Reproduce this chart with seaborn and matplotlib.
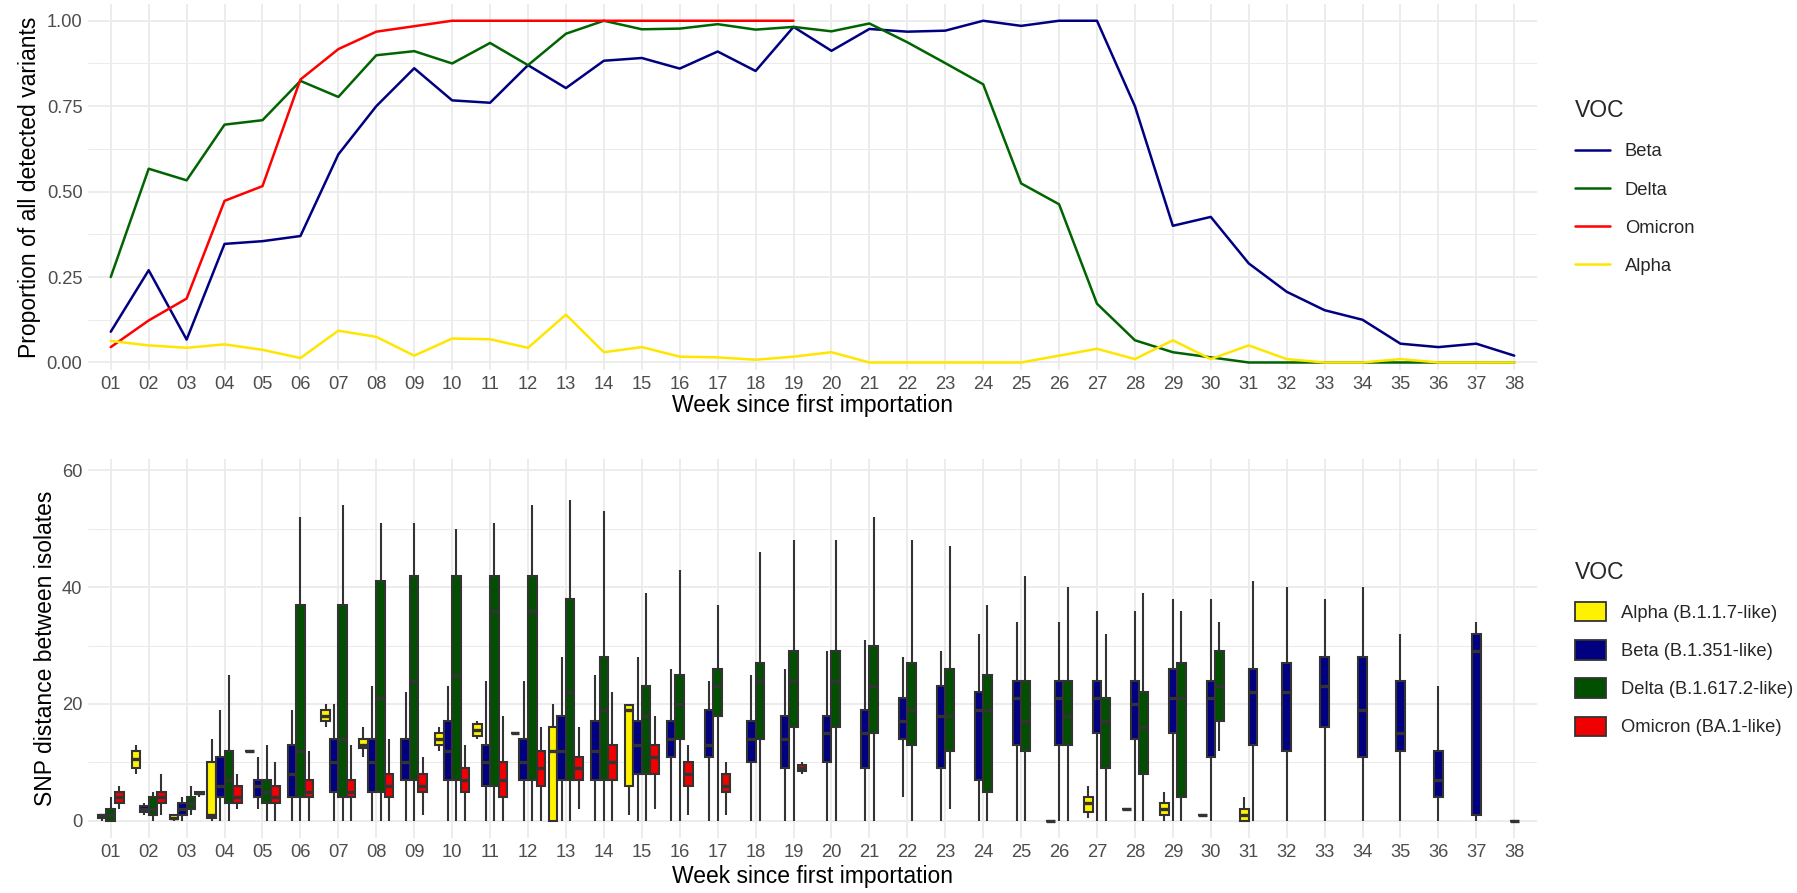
import numpy as np
import pandas as pd
import matplotlib
matplotlib.use("Agg")
import matplotlib.pyplot as plt
from matplotlib.patches import Patch
from matplotlib.ticker import MultipleLocator
import seaborn as sns

# ---------------- data ----------------
weeks = list(range(1, 39))
week_labels = [f"{w:02d}" for w in weeks]

beta_prop = [0.09, 0.27, 0.067, 0.347, 0.355, 0.37, 0.609, 0.75, 0.861, 0.767,
             0.76, 0.87, 0.803, 0.883, 0.891, 0.86, 0.91, 0.853, 0.982, 0.912,
             0.976, 0.968, 0.971, 1.0, 0.985, 1.0, 1.0, 0.75, 0.40, 0.426,
             0.29, 0.207, 0.153, 0.125, 0.055, 0.045, 0.055, 0.02]
delta_prop = [0.25, 0.567, 0.533, 0.696, 0.709, 0.824, 0.777, 0.899, 0.911, 0.875,
              0.935, 0.87, 0.962, 1.0, 0.975, 0.977, 0.99, 0.974, 0.982, 0.969,
              0.992, 0.937, 0.876, 0.814, 0.524, 0.463, 0.172, 0.065, 0.03, 0.015,
              0.0, 0.0, 0.0, 0.0, 0.0, 0.0, 0.0, 0.0]
omicron_prop = [0.045, 0.123, 0.187, 0.473, 0.516, 0.828, 0.917, 0.968, 0.984, 1.0,
                1.0, 1.0, 1.0, 1.0, 1.0, 1.0, 1.0, 1.0, 1.0]
alpha_prop = [0.063, 0.05, 0.043, 0.053, 0.037, 0.013, 0.093, 0.075, 0.02, 0.07,
              0.068, 0.043, 0.14, 0.03, 0.045, 0.017, 0.015, 0.008, 0.017, 0.03,
              0.0, 0.0, 0.0, 0.0, 0.0, 0.02, 0.04, 0.01, 0.065, 0.01,
              0.05, 0.01, 0.0, 0.0, 0.01, 0.0, 0.0, 0.0]

line_order = ["Beta", "Delta", "Omicron", "Alpha"]
line_colors = {"Beta": "#000080", "Delta": "#006400", "Omicron": "#FF0000", "Alpha": "#FFE600"}

# box data: [min, q1, median, q3, max] per week
alpha_weeks = [1, 2, 3, 4, 5, 7, 8, 10, 11, 12, 13, 15, 26, 27, 28, 29, 30, 31]
alpha_box = [[0, 0.5, 1, 1, 1], [8, 9, 10.5, 12, 13], [0, 0.3, 0.5, 1, 1],
             [0, 0.5, 1, 10, 14], [12, 12, 12, 12, 12], [16, 17, 18, 19, 20],
             [11, 12.5, 13, 14, 16], [12, 13, 14, 15, 16], [14, 14.5, 15.5, 16.5, 17],
             [15, 15, 15, 15, 15], [0, 0, 12, 16, 20], [1, 6, 19, 19.8, 19.8],
             [0, 0, 0, 0, 0], [0.5, 1.5, 3, 4, 6], [2, 2, 2, 2, 2],
             [0, 1, 2, 3, 5], [1, 1, 1, 1, 1], [0, 0, 1, 2, 4]]

beta_weeks = list(range(2, 39))
beta_box = [[1, 1.5, 2, 2.5, 3], [0, 1, 2, 3, 4], [0, 4, 6, 11, 19], [2, 4, 6, 7, 11],
            [0, 4, 8, 13, 19], [0, 5, 10, 14, 20], [0, 5, 10, 14, 23], [0, 7, 10, 14, 22],
            [0, 7, 12, 17, 23], [0, 6, 10, 13, 24], [0, 7, 10, 14, 24], [0, 7, 12, 18, 28],
            [0, 7, 12, 17, 25], [0, 8, 13, 17, 28], [0, 11, 14, 17, 26], [0, 11, 13, 19, 24],
            [0, 10, 14, 17, 25], [0, 9, 14, 18, 26], [0, 10, 15, 18, 29], [0, 9, 15, 19, 31],
            [4, 14, 17, 21, 28], [0, 9, 18, 23, 29], [0, 7, 19, 22, 32], [0, 13, 21, 24, 34],
            [0, 13, 21, 24, 34], [0, 15, 21, 24, 36], [0, 14, 20, 24, 36], [0, 15, 21, 26, 38],
            [0, 11, 21, 24, 38], [0, 13, 22, 26, 41], [0, 12, 22, 27, 40], [0, 16, 23, 28, 38],
            [0, 11, 19, 28, 40], [0, 12, 15, 24, 32], [0, 4, 7, 12, 23], [0, 1, 29, 32, 34],
            [0, 0, 0, 0, 0]]

delta_weeks = list(range(1, 31))
delta_box = [[0, 0, 1, 2, 4], [0, 1, 2, 4, 5], [1, 2, 3, 4, 6], [0, 3, 7, 12, 25],
             [0, 3, 5, 7, 13], [0, 4, 12, 37, 52], [0, 4, 14, 37, 54], [0, 5, 21, 41, 51],
             [0, 7, 24, 42, 51], [0, 7, 25, 42, 50], [0, 6, 36, 42, 51], [0, 7, 36, 42, 54],
             [0, 7, 22, 38, 55], [0, 7, 19, 28, 53], [0, 8, 18, 23, 39], [0, 14, 20, 25, 43],
             [0, 18, 23, 26, 37], [0, 14, 24, 27, 46], [0, 16, 24, 29, 48], [0, 16, 24, 29, 48],
             [0, 15, 23, 30, 52], [0, 13, 19, 27, 48], [2, 12, 18, 26, 47], [0, 5, 19, 25, 37],
             [0, 12, 17, 24, 42], [0, 13, 18, 24, 40], [0, 9, 17, 21, 32], [0, 8, 16, 22, 39],
             [0, 4, 21, 27, 36], [12, 17, 23, 29, 34]]

omicron_weeks = [1, 2, 3, 4, 5, 6, 7, 8, 9, 10, 11, 12, 13, 14, 15, 16, 17, 19]
omicron_box = [[2, 3, 4, 5, 6], [1, 3, 4, 5, 8], [4, 4.5, 4.8, 5, 5], [2, 3, 4, 6, 8],
               [0, 3, 4, 6, 10], [0, 4, 5, 7, 12], [0, 4, 5, 7, 13], [0, 4, 6, 8, 14],
               [1, 5, 6, 8, 11], [0, 5, 7, 9, 13], [0, 4, 7, 10, 18], [0, 6, 9, 12, 16],
               [2, 7, 9, 11, 16], [0, 7, 10, 13, 22], [2, 8, 11, 13, 18], [1, 6, 8, 10, 13],
               [1, 5, 6, 8, 10], [8, 8.5, 9, 9.5, 10]]

voc_order = ["Alpha", "Beta", "Delta", "Omicron"]
voc_labels = ["Alpha (B.1.1.7-like)", "Beta (B.1.351-like)",
              "Delta (B.1.617.2-like)", "Omicron (BA.1-like)"]
box_colors = {"Alpha": "#FFF200", "Beta": "#000080", "Delta": "#005000", "Omicron": "#F00000"}

# ---------------- frames ----------------
prop_df = pd.concat([
    pd.DataFrame({"week": weeks[:len(v)], "prop": v, "VOC": n})
    for n, v in [("Beta", beta_prop), ("Delta", delta_prop),
                 ("Omicron", omicron_prop), ("Alpha", alpha_prop)]
], ignore_index=True)

rows = []
for n, wks, st in [("Alpha", alpha_weeks, alpha_box), ("Beta", beta_weeks, beta_box),
                   ("Delta", delta_weeks, delta_box), ("Omicron", omicron_weeks, omicron_box)]:
    for w, s in zip(wks, st):
        for v in s:
            rows.append({"week": w, "snp": v, "VOC": n})
snp_df = pd.DataFrame(rows)

# ---------------- style ----------------
sns.set_style("whitegrid", {"grid.color": "#EBEBEB", "axes.edgecolor": "white"})
plt.rcParams["font.family"] = ["Liberation Sans", "DejaVu Sans"]

W, H = 1797, 893
fig = plt.figure(figsize=(W / 100, H / 100), dpi=100)
L, R = 88, 1537
ax1 = fig.add_axes([L / W, 1 - 370 / H, (R - L) / W, 366 / H])
ax2 = fig.add_axes([L / W, 1 - 838 / H, (R - L) / W, 379 / H])

tick_color = "#4D4D4D"
tick_fs = 13.2
title_fs = 16.5

# ---- top panel ----
sns.lineplot(data=prop_df, x="week", y="prop", hue="VOC", hue_order=line_order,
             palette=line_colors, linewidth=1.8, errorbar=None, ax=ax1)
ax1.set_xlim(0.4, 38.6)
ax1.set_ylim(-0.022, 1.049)
ax1.set_yticks([0, 0.25, 0.5, 0.75, 1.0])
ax1.set_yticklabels(["0.00", "0.25", "0.50", "0.75", "1.00"])
ax1.yaxis.set_minor_locator(MultipleLocator(0.125))
h, l = ax1.get_legend_handles_labels()
ax1.legend(h, l, title="VOC", loc="center left", bbox_to_anchor=(1.015, 0.5),
           frameon=False, fontsize=tick_fs, title_fontsize=title_fs,
           alignment="left", handlelength=1.9, labelspacing=1.15)
ax1.set_ylabel("Proportion of all detected variants", fontsize=title_fs)

# ---- bottom panel ----
for w in weeks:
    sub = snp_df[snp_df["week"] == w]
    present = [v for v in voc_order if v in set(sub["VOC"])]
    if not present:
        continue
    sns.boxplot(data=sub, x="week", y="snp", hue="VOC", hue_order=present,
                palette=box_colors, native_scale=True, width=0.225 * len(present),
                whis=(0, 100), showfliers=False, showcaps=False, saturation=1,
                linecolor="#333333", linewidth=1.5, legend=False, ax=ax2,
                medianprops=dict(linewidth=2.4))
ax2.set_xlim(0.4, 38.6)
ax2.set_ylim(-2.95, 61.95)
ax2.set_yticks([0, 20, 40, 60])
ax2.yaxis.set_minor_locator(MultipleLocator(10))
handles = [Patch(facecolor=box_colors[v], edgecolor="#333333", linewidth=1.3) for v in voc_order]
ax2.legend(handles, voc_labels, title="VOC", loc="center left", bbox_to_anchor=(1.015, 0.5),
           frameon=False, fontsize=tick_fs, title_fontsize=title_fs, alignment="left",
           handlelength=1.7, handleheight=1.25, labelspacing=1.0)
ax2.set_ylabel("SNP distance between isolates", fontsize=title_fs)

for ax, lp in ((ax1, 1), (ax2, 3)):
    ax.set_xticks(weeks)
    ax.set_xticklabels(week_labels)
    ax.set_xlabel("Week since first importation", fontsize=title_fs, labelpad=lp)
    ax.tick_params(axis="both", labelsize=tick_fs, colors=tick_color, length=0, pad=4)
    ax.grid(which="major", color="#EBEBEB", linewidth=1.3)
    ax.grid(which="minor", axis="y", color="#EBEBEB", linewidth=0.7)
    ax.set_axisbelow(True)
    for s in ax.spines.values():
        s.set_visible(False)
    ax.yaxis.label.set_color("black")
    ax.xaxis.label.set_color("black")

fig.savefig("out.png", dpi=100)
